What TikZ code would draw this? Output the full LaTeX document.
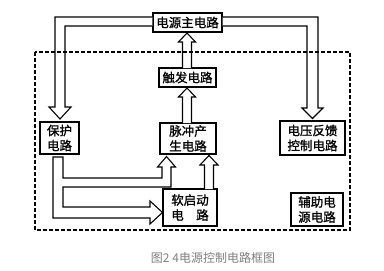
\documentclass[tikz,border=0pt]{standalone}
\usepackage{fontspec}
\newfontfamily\cjk[AutoFakeBold=1.2]{Noto Sans CJK SC}
\begin{document}
\begin{tikzpicture}[x=1pt,y=-1pt,
  blk/.style={draw=black,line width=1.2pt,inner sep=0pt,align=center,font=\cjk\bfseries\fontsize{12.5}{15}\selectfont},
  barrow/.style={draw=black,line width=1.1pt,fill=white,line join=miter},
  frame/.style={draw=black,line width=1.1pt,dash pattern=on 4pt off 2pt}]
\useasboundingbox (0,0) rectangle (384,271);
\fill[white] (0,0) rectangle (384,271);
% blocks
\node[blk,minimum width=69pt,minimum height=19pt] (main) at (187.5,22.5) {电源主电路};
\node[blk,minimum width=57pt,minimum height=19pt] (trig) at (187.5,77.5) {触发电路};
\node[blk,minimum width=56pt,minimum height=31pt] (pulse) at (188,138.5) {脉冲产\\生电路};
\node[blk,minimum width=54pt,minimum height=37pt] (soft) at (190,207.5) {软启动\\电\hspace{1em}路};
\node[blk,minimum width=39pt,minimum height=32pt] (prot) at (59.5,138) {保护\\电路};
\node[blk,minimum width=65pt,minimum height=34pt] (volt) at (312.5,138) {电压反馈\\控制电路};
\node[blk,minimum width=52pt,minimum height=33pt] (aux) at (317,209.5) {辅助电\\源电路};
% main -> prot
\draw[barrow] (main.west |- 0,17) -- (55,17) -- (55,107) -- (49,107) -- (60,119) -- (71,107) -- (65,107) -- (65,26) -- (main.west |- 0,26);
% main -> volt
\draw[barrow] (main.east |- 0,17) -- (318,17) -- (318,108) -- (323,108) -- (312.5,118.5) -- (302,108) -- (307,108) -- (307,26) -- (main.east |- 0,26);
% trig -> main
\draw[barrow] (182.5,68) -- (182.5,42) -- (178.5,42) -- (187,33) -- (195.5,42) -- (191.5,42) -- (191.5,68);
% pulse -> trig
\draw[barrow] (182.5,123) -- (182.5,97) -- (178.5,97) -- (187,88) -- (195.5,97) -- (191.5,97) -- (191.5,123);
% soft -> pulse
\draw[barrow] (204.5,189) -- (204.5,165) -- (200,165) -- (209,155.5) -- (218,165) -- (213.5,165) -- (213.5,189);
% prot -> pulse and prot -> soft
\draw[barrow] (53,157) -- (63,157) -- (63,178) -- (162,178) -- (162,167) -- (157.5,167) -- (166.5,156.5) -- (175.5,167) -- (171,167) -- (171,187) -- (63,187) -- (63,207) -- (150,207) -- (150,201) -- (162.5,212.5) -- (150,224) -- (150,218) -- (53,218) -- cycle;
% dashed frame (drawn over the arrow shafts)
\draw[frame] (35,52) rectangle (350,230);
% caption
\node[font=\cjk\fontsize{12}{14}\selectfont,text=black!50,inner sep=0pt] (cap) at (213,258) {图2\ 4电源控制电路框图};
\end{tikzpicture}
\end{document}
